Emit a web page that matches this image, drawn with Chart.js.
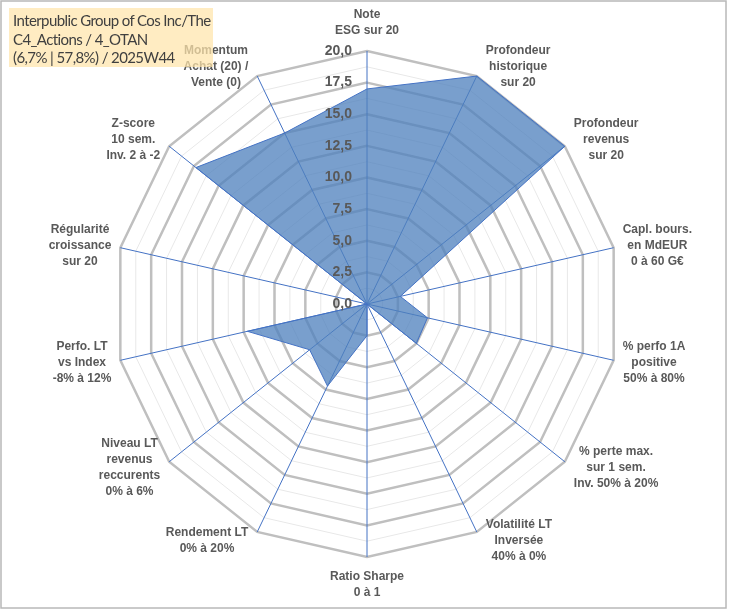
<!DOCTYPE html>
<html>
<head>
<meta charset="utf-8">
<script src="https://cdn.jsdelivr.net/npm/chart.js@4/dist/chart.umd.min.js"></script>
<style>
  body { margin: 0; background: #fff; }
  #wrap { position: relative; width: 729px; height: 610px; }
  #title {
    position: absolute; left: 9px; top: 8px; width: 204px; height: 59px;
    background: rgba(255, 228, 170, 0.72);
    font-family: Lato, "Open Sans", sans-serif; font-size: 15px; line-height: 18.5px;
    letter-spacing: -0.6px;
    color: #404040; padding: 3px 0 0 4px; box-sizing: border-box; white-space: nowrap;
  }
</style>
</head>
<body>
<div id="wrap">
  <canvas id="radar" width="729" height="610"></canvas>
  <div id="title">Interpublic Group of Cos Inc/The<br>C4_Actions / 4_OTAN<br>(6,7% | 57,8%) / 2025W44</div>
</div>
<script>
const categories = [
  ['Note', 'ESG sur 20'],
  ['Profondeur', 'historique', 'sur 20'],
  ['Profondeur', 'revenus', 'sur 20'],
  ['Capl. bours.', 'en MdEUR', '0 à 60 G€'],
  ['% perfo 1A', 'positive', '50% à 80%'],
  ['% perte max.', 'sur 1 sem.', 'Inv. 50% à 20%'],
  ['Volatilité LT', 'Inversée', '40% à 0%'],
  ['Ratio Sharpe', '0 à 1'],
  ['Rendement LT', '0% à 20%'],
  ['Niveau LT', 'revenus', 'reccurents', '0% à 6%'],
  ['Perfo. LT', 'vs Index', '-8% à 12%'],
  ['Régularité', 'croissance', 'sur 20'],
  ['Z-score', '10 sem.', 'Inv. 2 à -2'],
  ['Momentum', 'Achat (20) /', 'Vente (0)']
];
const scores = [17.0, 20, 20, 2.7, 4.9, 5.0, 0, 2.5, 7.2, 5.8, 9.7, 0, 17.3, 15.0];
const tickValues = [0, 2.5, 5, 7.5, 10, 12.5, 15, 17.5, 20];
const tickLabels = ['0,0', '2,5', '5,0', '7,5', '10,0', '12,5', '15,0', '17,5', '20,0'];

const labelFont = 'bold 12px "Liberation Sans", Arial, sans-serif';
const lineGap = 16;

// tick labels sit left of the vertical axis, like Excel does it
const tickLabelPlugin = {
  id: 'tickLabels',
  afterDatasetsDraw(chart) {
    const r = chart.scales.r;
    const ctx = chart.ctx;
    ctx.save();
    ctx.font = 'bold 14px "Liberation Sans", Arial, sans-serif';
    ctx.fillStyle = '#595959';
    ctx.textAlign = 'right';
    ctx.textBaseline = 'middle';
    tickValues.forEach((v, i) => {
      const p = r.getPointPositionForValue(0, v);
      ctx.fillText(tickLabels[i], p.x - 15, p.y);
    });
    ctx.restore();
  }
};

// category labels: centred lines, box placed just outside each outer vertex
const categoryLabelPlugin = {
  id: 'categoryLabels',
  afterDraw(chart) {
    const r = chart.scales.r;
    const ctx = chart.ctx;
    ctx.save();
    ctx.font = labelFont;
    ctx.fillStyle = '#595959';
    ctx.textAlign = 'center';
    ctx.textBaseline = 'middle';
    categories.forEach((lines, i) => {
      const p = r.getPointPositionForValue(i, r.max);
      const a = r.getIndexAngle(i);
      const s = Math.sin(a), c = Math.cos(a);
      const w = Math.max(...lines.map(t => ctx.measureText(t).width));
      const h = lines.length * lineGap;
      let cx, cy;
      if (Math.abs(s) < 0.01) {
        cx = p.x;
        cy = p.y - Math.sign(c) * (h / 2 + 12);
      } else {
        cx = p.x + Math.sign(s) * (w / 2 + 9);
        cy = p.y - c * 10;
      }
      lines.forEach((t, k) => {
        ctx.fillText(t, cx, cy + (k - (lines.length - 1) / 2) * lineGap);
      });
    });
    ctx.restore();
  }
};

const framePlugin = {
  id: 'frame',
  afterDraw(chart) {
    const ctx = chart.ctx;
    ctx.save();
    ctx.strokeStyle = '#b8b8b8';
    ctx.lineWidth = 1.5;
    ctx.strokeRect(1, 1, 725, 607);
    ctx.restore();
  }
};

new Chart(document.getElementById('radar'), {
  type: 'radar',
  data: {
    labels: categories,
    datasets: [{
      data: scores,
      backgroundColor: 'rgba(79, 129, 189, 0.76)',
      borderColor: '#4472c4',
      borderWidth: 1,
      pointRadius: 0,
      pointHoverRadius: 0
    }]
  },
  options: {
    responsive: false,
    devicePixelRatio: 1,
    animation: false,
    layout: { padding: { top: 51, bottom: 53, left: 114, right: 109 } },
    plugins: { legend: { display: false }, tooltip: { enabled: false } },
    scales: {
      r: {
        min: 0,
        max: 20,
        ticks: { stepSize: 1.25, display: false },
        grid: {
          color: ctx => (ctx.tick && ctx.tick.value % 2.5 === 0) ? '#bfbfbf' : '#e8e8e8',
          lineWidth: ctx => (ctx.tick && ctx.tick.value % 2.5 === 0) ? 2.5 : 1
        },
        angleLines: { color: '#4472c4', lineWidth: 1 },
        pointLabels: { display: false }
      }
    }
  },
  plugins: [tickLabelPlugin, categoryLabelPlugin, framePlugin]
});
</script>
</body>
</html>
